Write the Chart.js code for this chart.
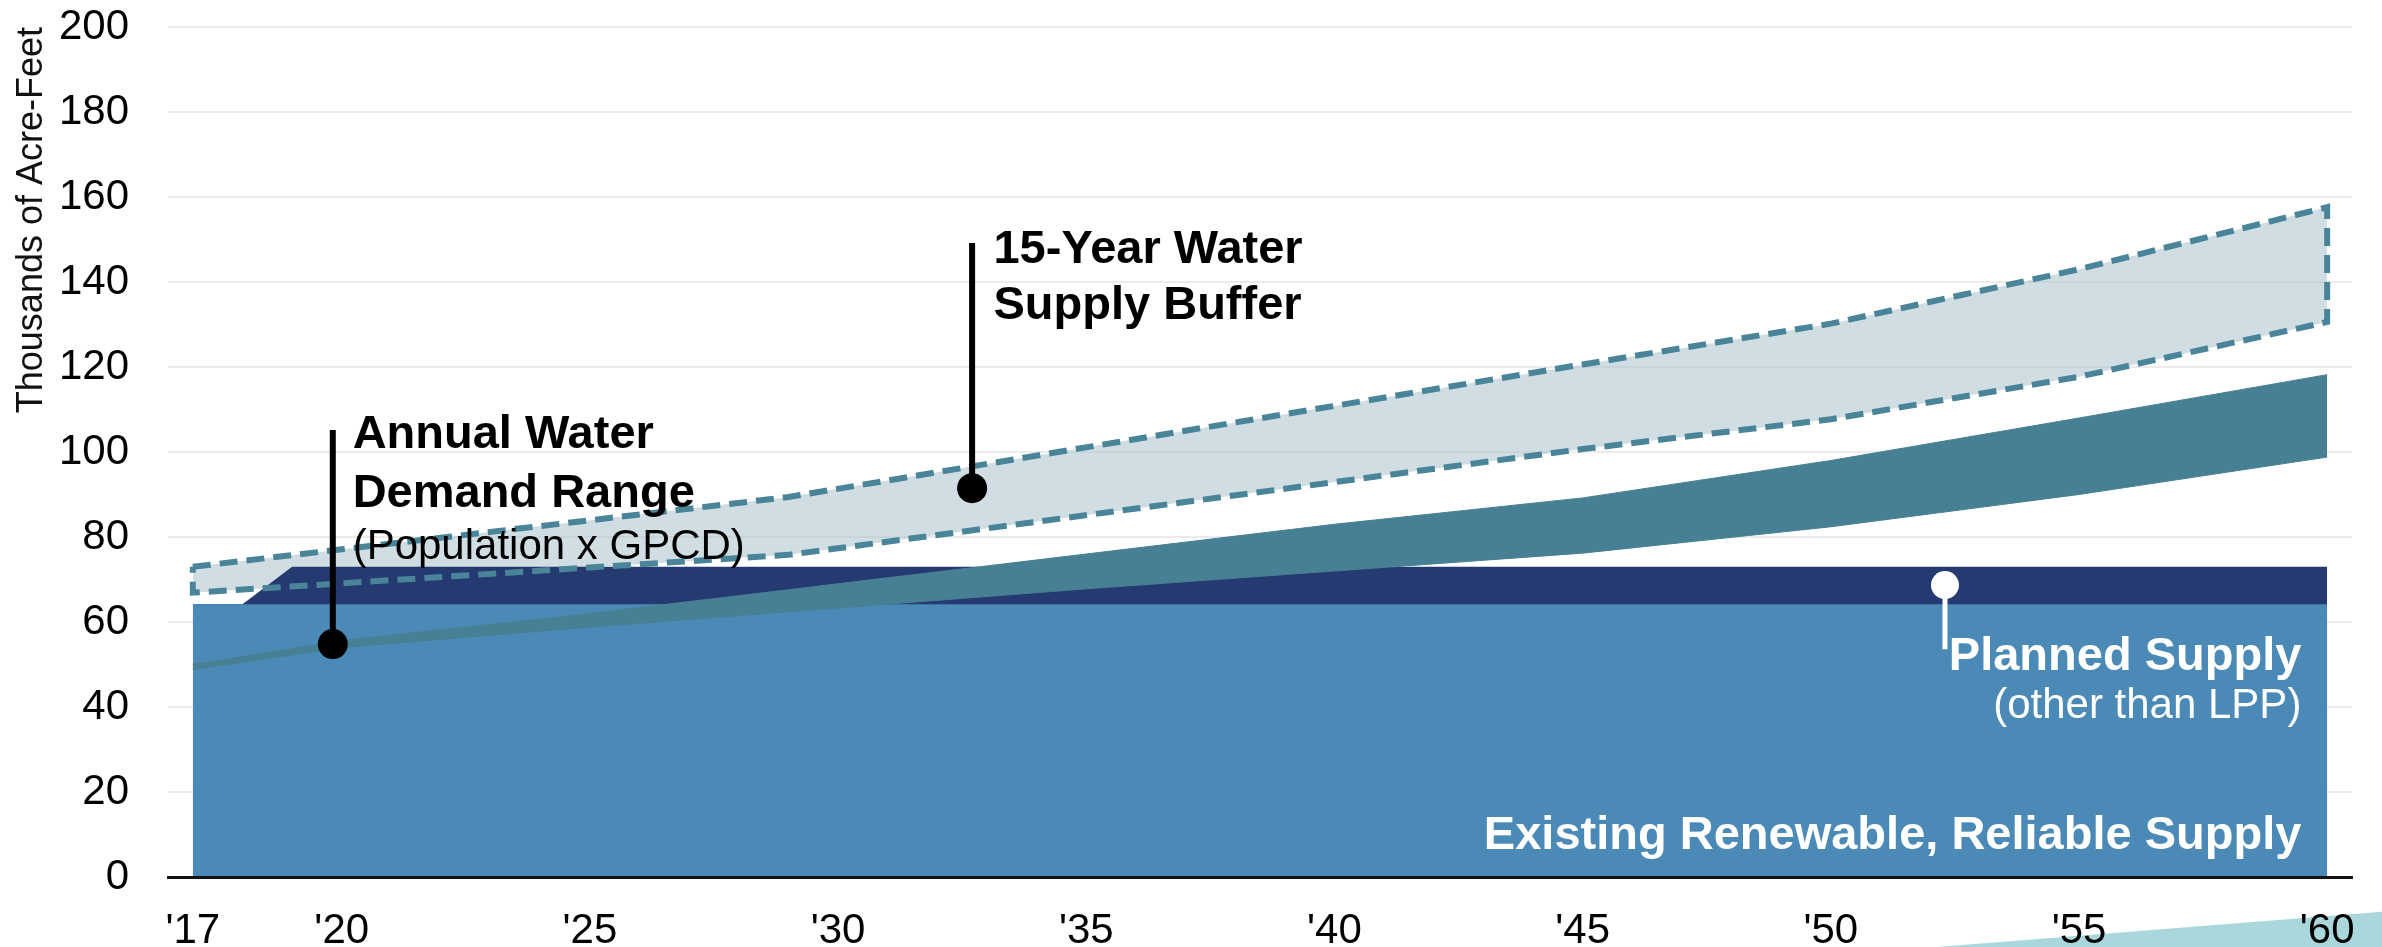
<!DOCTYPE html>
<html>
<head>
<meta charset="utf-8">
<title>Water Supply and Demand</title>
<script src="https://cdn.jsdelivr.net/npm/chart.js@4.4.1/dist/chart.umd.min.js"></script>
<style>
    html, body { margin: 0; padding: 0; background: #fff; }
    #waterChart { display: block; }
</style>
</head>
<body>
<canvas id="waterChart" width="2382" height="947"></canvas>
<script>
// values, thousands of acre-feet
var yearTicks = [2017, 2020, 2025, 2030, 2035, 2040, 2045, 2050, 2055, 2060];

var supplyYears = [2017, 2018, 2019, 2060];
var existingSupply = [64.2, 64.2, 64.2, 64.2];
var plannedSupply = [0, 0, 8.8, 8.8];   // stacked on top of existing

var demandYears = [2017, 2020, 2025, 2030, 2035, 2040, 2045, 2050, 2055, 2060];
var demandHigh = [50.0, 55.6, 62.0, 69.0, 76.0, 83.0, 89.2, 98.0, 108.0, 118.2];
var demandLow = [48.8, 54.0, 58.8, 63.3, 67.8, 72.0, 76.2, 82.4, 90.0, 98.8];

var bufferYears = [2017, 2020, 2029, 2045, 2050, 2055, 2060];
var bufferHigh = [73.0, 77.1, 89.4, 120.6, 130.2, 143.0, 157.6];
var bufferLow = [66.9, 69.1, 75.8, 100.7, 107.7, 117.7, 130.6];

// callout markers: year, value at the dot, value at the end of the stem
var demandCallout = [2019.82, 54.8, 105.2];
var bufferCallout = [2032.7, 91.5, 149.2];
var plannedCallout = [2052.3, 68.7, 53.6];

// sliver of another shape, cut off at the bottom right of the original
var wedgeYears = [2052.0, 2061.3, 2061.3];
var wedgeValues = [-16.6, -8.0, -16.6];

var FONT = '"Liberation Sans", Arial, sans-serif';

function pts(xs, ys) {
    return xs.map(function (x, i) { return { x: x, y: ys[i] }; });
}

var plannedTop = existingSupply.map(function (v, i) { return v + plannedSupply[i]; });

// closed outline round the buffer band (upper edge out, lower edge back)
var bufferOutline = pts(bufferYears, bufferHigh)
    .concat(pts(bufferYears.slice().reverse(), bufferLow.slice().reverse()))
    .concat([{ x: bufferYears[0], y: bufferHigh[0] }]);

function stem(c) {
    return [{ x: c[0], y: c[1] }, { x: c[0], y: c[2] }];
}

var notes = [
    { text: 'Annual Water', year: 2020.22, value: 100.9, size: 47, bold: true, color: '#000', align: 'left' },
    { text: 'Demand Range', year: 2020.22, value: 87.0, size: 47, bold: true, color: '#000', align: 'left' },
    { text: '(Population x GPCD)', year: 2020.22, value: 74.8, size: 42, bold: false, color: '#000', align: 'left' },
    { text: '15-Year Water', year: 2033.13, value: 144.5, size: 47, bold: true, color: '#000', align: 'left' },
    { text: 'Supply Buffer', year: 2033.13, value: 131.3, size: 47, bold: true, color: '#000', align: 'left' },
    { text: 'Planned Supply', year: 2059.48, value: 48.7, size: 47, bold: true, color: '#fff', align: 'right' },
    { text: '(other than LPP)', year: 2059.48, value: 37.4, size: 42, bold: false, color: '#fff', align: 'right' },
    { text: 'Existing Renewable, Reliable Supply', year: 2059.48, value: 6.6, size: 47, bold: true, color: '#fff', align: 'right' }
];

var notePlugin = {
    id: 'notes',
    beforeDatasetsDraw: function (chart) {
        var ctx = chart.ctx, sx = chart.scales.x, sy = chart.scales.y;
        ctx.save();
        ctx.fillStyle = '#aad7db';
        ctx.beginPath();
        wedgeYears.forEach(function (yr, i) {
            var px = sx.getPixelForValue(yr), py = sy.getPixelForValue(wedgeValues[i]);
            if (i === 0) ctx.moveTo(px, py); else ctx.lineTo(px, py);
        });
        ctx.closePath();
        ctx.fill();
        ctx.restore();
    },
    afterDatasetsDraw: function (chart) {
        var ctx = chart.ctx, sx = chart.scales.x, sy = chart.scales.y;
        notes.forEach(function (n) {
            ctx.save();
            ctx.font = (n.bold ? 'bold ' : '') + n.size + 'px ' + FONT;
            ctx.fillStyle = n.color;
            ctx.textAlign = n.align;
            ctx.textBaseline = 'alphabetic';
            ctx.fillText(n.text, sx.getPixelForValue(n.year), sy.getPixelForValue(n.value));
            ctx.restore();
        });
    }
};

var base = { pointRadius: 0, pointHoverRadius: 0, tension: 0, fill: false, borderWidth: 0 };

function ds(extra) {
    return Object.assign({}, base, extra);
}

var ctx = document.getElementById('waterChart');
var waterChart = new Chart(ctx, {
    type: 'line',
    data: {
        datasets: [
            // 0,1 buffer band fill
            ds({ data: pts(bufferYears, bufferHigh), fill: { target: 1 }, backgroundColor: 'rgba(170,193,204,0.55)', order: 10 }),
            ds({ data: pts(bufferYears, bufferLow), order: 11 }),
            // 2 planned supply (navy), 3 existing supply
            ds({ data: pts(supplyYears, plannedTop), fill: 'origin', backgroundColor: '#263a72', order: 9 }),
            ds({ data: pts(supplyYears, existingSupply), fill: 'origin', backgroundColor: '#4b89b6', order: 8 }),
            // 4,5 demand range band
            ds({ data: pts(demandYears, demandHigh), fill: { target: 5 }, backgroundColor: '#477f94', borderColor: '#477f94', borderWidth: 1, order: 7 }),
            ds({ data: pts(demandYears, demandLow), borderColor: '#477f94', borderWidth: 1, order: 6 }),
            // 6 dashed outline of buffer
            ds({ data: bufferOutline, borderColor: '#4a8499', borderWidth: 6, borderDash: [18, 9], order: 5 }),
            // callout stems and dots
            ds({ data: stem(demandCallout), borderColor: '#000', borderWidth: 6, pointRadius: [15, 0], pointBackgroundColor: '#000', pointBorderWidth: 0, order: 3 }),
            ds({ data: stem(bufferCallout), borderColor: '#000', borderWidth: 6, pointRadius: [15, 0], pointBackgroundColor: '#000', pointBorderWidth: 0, order: 2 }),
            ds({ data: stem(plannedCallout), borderColor: '#fff', borderWidth: 5, pointRadius: [14, 0], pointBackgroundColor: '#fff', pointBorderWidth: 0, order: 1 })
        ]
    },
    options: {
        responsive: false,
        animation: false,
        devicePixelRatio: 1,
        events: [],
        layout: { padding: { top: 27, right: 30, left: 0, bottom: 0 } },
        plugins: {
            legend: { display: false },
            tooltip: { enabled: false }
        },
        scales: {
            x: {
                type: 'linear',
                min: 2016.5,
                max: 2060.5,
                grid: { display: false },
                border: { display: true, color: '#111', width: 3, z: 1 },
                afterBuildTicks: function (axis) {
                    axis.ticks = yearTicks.map(function (v) { return { value: v }; });
                },
                afterFit: function (scale) { scale.height = 70; },
                ticks: {
                    z: 1,
                    autoSkip: false,
                    maxRotation: 0,
                    padding: 21,
                    color: '#000',
                    font: { family: FONT, size: 42 },
                    callback: function (v) { return "'" + String(v).slice(2); }
                }
            },
            y: {
                min: 0,
                max: 200,
                // tick marks are hidden; their length keeps labels away from the plot
                grid: { color: '#ebebeb', lineWidth: 2, drawTicks: true, tickLength: 39, tickColor: 'rgba(0,0,0,0)' },
                border: { display: false },
                afterFit: function (scale) { scale.width = 168; },
                ticks: {
                    stepSize: 20,
                    padding: 0,
                    color: '#000',
                    font: { family: FONT, size: 42 }
                },
                title: {
                    display: true,
                    text: 'Thousands of Acre-Feet',
                    align: 'end',
                    color: '#111',
                    font: { family: FONT, size: 36, lineHeight: 1.2 },
                    padding: { top: 10, bottom: 0 }
                }
            }
        }
    },
    plugins: [notePlugin]
});
</script>
</body>
</html>
